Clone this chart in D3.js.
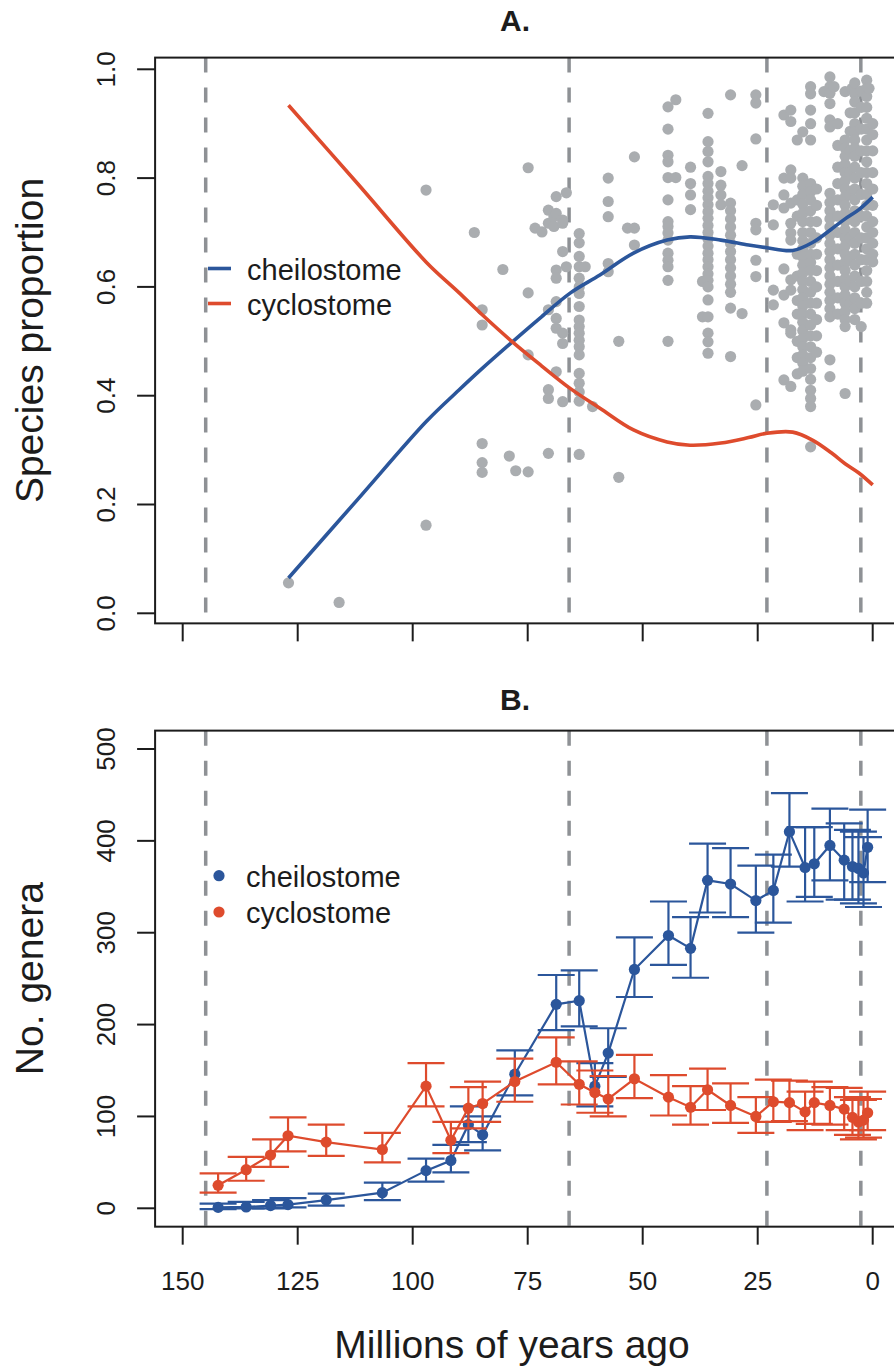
<!DOCTYPE html>
<html lang="en">
<head>
<meta charset="UTF-8">
<title>Cheilostome vs cyclostome</title>
<script src="https://d3js.org/d3.v7.min.js"></script>
<style>
  body { margin: 0; background: #fff; }
  svg { display: block; font-family: "Liberation Sans", Arial, Helvetica, sans-serif; }
</style>
</head>
<body>
<script>
// ---- data ----
const boundaries = [145, 66, 23, 2.58];
const ageTicks = [150, 125, 100, 75, 50, 25, 0];
const propTicks = [0, 0.2, 0.4, 0.6, 0.8, 1.0];
const generaTicks = [0, 100, 200, 300, 400, 500];
const seriesNames = ["cheilostome", "cyclostome"];

// panel A: smoothed species proportions
const curveAges   = [127, 112, 97, 90, 85.3, 78.2, 72, 65.7, 59.3, 52, 44.7, 39.7, 33, 27, 23, 17.4, 13, 9, 6, 3, 0];
const cheiloCurve = [0.065, 0.209, 0.353, 0.41, 0.447, 0.50, 0.545, 0.589, 0.622, 0.662, 0.686, 0.692, 0.686, 0.677, 0.672, 0.667, 0.682, 0.706, 0.725, 0.742, 0.765];
const cycloCurve  = [0.934, 0.79, 0.645, 0.59, 0.552, 0.498, 0.455, 0.413, 0.377, 0.337, 0.315, 0.309, 0.313, 0.323, 0.331, 0.333, 0.318, 0.295, 0.275, 0.258, 0.236];

// panel A: per-assemblage cheilostome proportions (grey points), grouped by age
const scatterAges = [127, 116, 97.1, 86.6, 84.9, 80.4, 79, 77.6, 74.9, 73.4, 71.9, 70.5, 69.3, 68.8, 67.4, 66.6,
  63.8, 62.5, 60.9, 57.5, 55.2, 53.3, 51.8, 44.5, 42.8, 39.6, 37, 35.8, 33, 30.9, 28.4, 25.4, 21.6,
  19.3, 17.8, 16.4, 15.2, 13.5, 12.2, 10.6, 9.3, 8.4, 7.6, 6, 4.9, 4.5, 3.9, 2.5, 1.3, 0.8, 0];
const scatterProps = [
  [0.056], [0.02], [0.162, 0.778], [0.70], [0.558, 0.53, 0.312, 0.277, 0.259], [0.632], [0.289], [0.262],
  [0.819, 0.589, 0.475, 0.26], [0.708], [0.701], [0.741, 0.717, 0.558, 0.411, 0.395, 0.294], [0.729, 0.711],
  [0.766, 0.735, 0.631, 0.616, 0.573, 0.542, 0.524, 0.444], [0.723, 0.717, 0.665, 0.515, 0.496, 0.389], [0.773, 0.637],
  [0.698, 0.681, 0.656, 0.637, 0.616, 0.600, 0.588, 0.564, 0.539, 0.527, 0.515, 0.502, 0.490, 0.475, 0.441, 0.423, 0.407, 0.390, 0.292],
  [0.637], [0.380], [0.800, 0.757, 0.729, 0.643, 0.628], [0.50, 0.25], [0.708], [0.839, 0.708, 0.677],
  [0.931, 0.890, 0.842, 0.830, 0.801, 0.760, 0.720, 0.711, 0.699, 0.686, 0.662, 0.649, 0.637, 0.612, 0.500],
  [0.944, 0.801], [0.820, 0.790, 0.769, 0.742], [0.61, 0.545],
  [0.919, 0.867, 0.849, 0.830, 0.803, 0.79, 0.776, 0.764, 0.751, 0.738, 0.726, 0.713, 0.70, 0.688, 0.675, 0.662, 0.65, 0.637, 0.624, 0.612, 0.60, 0.576, 0.545, 0.515, 0.499, 0.478],
  [0.812, 0.787, 0.769, 0.751],
  [0.953, 0.754, 0.74, 0.725, 0.71, 0.695, 0.68, 0.665, 0.65, 0.635, 0.62, 0.605, 0.59, 0.561, 0.472],
  [0.823, 0.551], [0.953, 0.938, 0.872, 0.717, 0.705, 0.649, 0.619, 0.383], [0.751, 0.714, 0.594, 0.567],
  [0.916, 0.80, 0.769, 0.745, 0.633, 0.585, 0.534, 0.429],
  [0.925, 0.904, 0.815, 0.80, 0.754, 0.717, 0.699, 0.686, 0.613, 0.594, 0.521, 0.515, 0.417],
  [0.87, 0.76, 0.73, 0.66, 0.62, 0.575, 0.55, 0.50, 0.47, 0.44],
  [0.885, 0.80, 0.785, 0.77, 0.752, 0.735, 0.72, 0.70, 0.685, 0.67, 0.655, 0.64, 0.625, 0.61, 0.595, 0.58, 0.565, 0.55, 0.535, 0.52, 0.505, 0.49, 0.475, 0.46, 0.445],
  [0.968, 0.955, 0.925, 0.90, 0.87, 0.79, 0.775, 0.76, 0.74, 0.72, 0.70, 0.68, 0.66, 0.645, 0.63, 0.61, 0.59, 0.57, 0.55, 0.53, 0.51, 0.49, 0.47, 0.45, 0.43, 0.41, 0.395, 0.38, 0.306],
  [0.78, 0.75, 0.72, 0.69, 0.66, 0.63, 0.60, 0.57, 0.54, 0.51, 0.48],
  [0.959],
  [0.986, 0.968, 0.956, 0.937, 0.907, 0.894, 0.772, 0.755, 0.74, 0.725, 0.71, 0.695, 0.68, 0.665, 0.65, 0.635, 0.62, 0.605, 0.59, 0.575, 0.56, 0.545, 0.466, 0.435],
  [0.968],
  [0.90, 0.86, 0.82, 0.79, 0.76, 0.73, 0.70, 0.67, 0.64, 0.61, 0.58, 0.55],
  [0.959, 0.87, 0.855, 0.84, 0.825, 0.81, 0.795, 0.78, 0.765, 0.75, 0.735, 0.72, 0.705, 0.69, 0.675, 0.66, 0.645, 0.63, 0.615, 0.60, 0.585, 0.57, 0.555, 0.54, 0.527, 0.404],
  [0.92, 0.886, 0.85, 0.81, 0.77, 0.73, 0.69, 0.65, 0.61, 0.57],
  [0.965],
  [0.975, 0.955, 0.94, 0.92, 0.90, 0.885, 0.87, 0.855, 0.84, 0.82, 0.80, 0.78, 0.76, 0.74, 0.72, 0.70, 0.68, 0.66, 0.64, 0.62, 0.60, 0.58, 0.56, 0.54],
  [0.96, 0.93, 0.89, 0.85, 0.81, 0.77, 0.73, 0.69, 0.65, 0.61, 0.57, 0.527],
  [0.98, 0.965, 0.95, 0.93, 0.91, 0.89, 0.87, 0.85, 0.83, 0.81, 0.79, 0.77, 0.75, 0.73, 0.71, 0.69, 0.67, 0.65, 0.63, 0.61, 0.59, 0.57],
  [0.965],
  [0.90, 0.88, 0.85, 0.81, 0.78, 0.75, 0.72, 0.70, 0.68, 0.66, 0.646]
];

// panel B: genus counts with error bars
const generaAges   = [142.3, 136.2, 130.9, 127.1, 118.8, 106.6, 97.1, 91.7, 87.9, 84.8, 77.8, 68.8, 63.8, 60.4, 57.5, 51.8, 44.4, 39.6, 35.9, 30.9, 25.4, 21.6, 18.1, 14.7, 12.7, 9.3, 6.2, 4.4, 3.1, 2.0, 1.1];
const cheiloGenera = [1, 1.5, 3, 4, 9, 17, 41, 52, 91, 80, 146, 222, 226, 133, 169, 260, 297, 283, 357, 353, 335, 346, 410, 371, 375, 395, 379, 372, 370, 365, 393];
const cheiloLo     = [-1, 0, 0, 1, 3, 9, 29, 39, 72, 63, 123, 194, 198, 111, 143, 230, 265, 251, 322, 317, 300, 311, 372, 334, 339, 357, 336, 336, 332, 328, 355];
const cheiloHi     = [5, 7, 9, 11, 16, 28, 54, 69, 111, 100, 172, 254, 259, 158, 196, 295, 334, 317, 397, 392, 373, 385, 452, 415, 415, 435, 419, 412, 410, 404, 434];
const cycloGenera  = [25, 42, 58, 79, 72, 64, 133, 74, 109, 114, 138, 159, 135, 126, 119, 141, 121, 110, 129, 112, 100, 116, 115, 105, 115, 112, 108, 99, 94, 96, 104];
const cycloLo      = [17, 30, 45, 62, 57, 50, 111, 60, 87, 94, 116, 135, 113, 104, 100, 120, 101, 91, 107, 93, 82, 94, 95, 85, 92, 91, 85, 80, 75, 77, 85];
const cycloHi      = [38, 56, 75, 99, 91, 82, 158, 94, 132, 138, 163, 186, 160, 150, 144, 167, 145, 133, 152, 136, 121, 140, 139, 127, 138, 132, 131, 121, 118, 119, 127];

// ---- drawing ----
const w = 894, h = 1372;
const blue = "#2b569b", red = "#de4b2d", grey = "#aaadb0", dashGrey = "#8e9195", ink = "#1c1c1c";

const svg = d3.select('body').append('svg').attr('width', w).attr('height', h);
svg.append('rect').attr('width', w).attr('height', h).attr('fill', '#fff');

const x = d3.scaleLinear().domain([150, 0]).range([182.7, 872.7]);
const yA = d3.scaleLinear().domain([0, 1]).range([613.3, 69.3]);
const yB = d3.scaleLinear().domain([0, 500]).range([1208.3, 749]);

function frame(y, yTicks, yFmt, top, bottom, showXLabels) {
  const g = svg.append('g');
  const left = x(156), right = x(-6);
  // period boundaries
  g.selectAll('line.bound').data(boundaries).enter().append('line')
    .attr('x1', d => x(d)).attr('x2', d => x(d))
    .attr('y1', top).attr('y2', bottom)
    .attr('stroke', dashGrey).attr('stroke-width', 3.5)
    .attr('stroke-dasharray', '15,15');
  g.append('rect').attr('x', left).attr('y', top)
    .attr('width', right - left).attr('height', bottom - top)
    .attr('fill', 'none').attr('stroke', ink).attr('stroke-width', 2);
  // y ticks
  g.selectAll('line.yt').data(yTicks).enter().append('line')
    .attr('x1', left - 18).attr('x2', left)
    .attr('y1', d => y(d)).attr('y2', d => y(d))
    .attr('stroke', ink).attr('stroke-width', 2);
  g.selectAll('text.yt').data(yTicks).enter().append('text')
    .attr('transform', d => `translate(115,${y(d)}) rotate(-90)`)
    .attr('text-anchor', 'middle').attr('font-size', 26).attr('fill', ink)
    .text(yFmt);
  // x ticks
  g.selectAll('line.xt').data(ageTicks).enter().append('line')
    .attr('x1', d => x(d)).attr('x2', d => x(d))
    .attr('y1', bottom).attr('y2', bottom + 18)
    .attr('stroke', ink).attr('stroke-width', 2);
  if (showXLabels) {
    g.selectAll('text.xt').data(ageTicks).enter().append('text')
      .attr('x', d => x(d)).attr('y', bottom + 63)
      .attr('text-anchor', 'middle').attr('font-size', 26).attr('fill', ink)
      .text(d => d);
  }
  return g;
}

// ---------- panel A ----------
const topA = yA(1.0215), botA = yA(-0.0185);
frame(yA, propTicks, d => d.toFixed(1), topA, botA, false);

const pts = [];
scatterAges.forEach((a, i) => scatterProps[i].forEach(v => pts.push([a, v])));
svg.append('g').selectAll('circle').data(pts).enter().append('circle')
  .attr('cx', d => x(d[0])).attr('cy', d => yA(d[1])).attr('r', 5.6)
  .attr('fill', grey);

const lineA = d3.line().x(d => x(d[0])).y(d => yA(d[1])).curve(d3.curveCatmullRom.alpha(0.5));
[[cheiloCurve, blue], [cycloCurve, red]].forEach(([vals, col]) => {
  svg.append('path').datum(curveAges.map((a, i) => [a, vals[i]]))
    .attr('d', lineA).attr('fill', 'none').attr('stroke', col).attr('stroke-width', 3.6);
});

// legend A
const legA = svg.append('g');
[blue, red].forEach((col, i) => {
  const ly = 268.5 + i * 35;
  legA.append('line').attr('x1', 208).attr('x2', 231).attr('y1', ly).attr('y2', ly)
    .attr('stroke', col).attr('stroke-width', 3.6);
  legA.append('text').attr('x', 247).attr('y', ly).attr('dy', '0.39em')
    .attr('font-size', 29).attr('fill', ink).text(seriesNames[i]);
});

svg.append('text').attr('x', 515).attr('y', 31).attr('text-anchor', 'middle')
  .attr('font-size', 30).attr('font-weight', 'bold').attr('fill', ink).text('A.');
svg.append('text').attr('transform', `translate(43,${(topA + botA) / 2}) rotate(-90)`)
  .attr('text-anchor', 'middle').attr('font-size', 39).attr('fill', ink).text('Species proportion');

// ---------- panel B ----------
const topB = yB(520), botB = yB(-20);
frame(yB, generaTicks, d => d, topB, botB, true);

function series(vals, lo, hi, col) {
  const g = svg.append('g');
  const line = d3.line().x((d, i) => x(generaAges[i])).y(d => yB(d));
  g.append('path').datum(vals).attr('d', line)
    .attr('fill', 'none').attr('stroke', col).attr('stroke-width', 2.2);
  generaAges.forEach((a, i) => {
    const cx = x(a);
    g.append('line').attr('x1', cx).attr('x2', cx).attr('y1', yB(lo[i])).attr('y2', yB(hi[i]))
      .attr('stroke', col).attr('stroke-width', 2.2);
    [lo[i], hi[i]].forEach(v => {
      g.append('line').attr('x1', cx - 18.5).attr('x2', cx + 18.5).attr('y1', yB(v)).attr('y2', yB(v))
        .attr('stroke', col).attr('stroke-width', 2.2);
    });
  });
  g.selectAll('circle').data(vals).enter().append('circle')
    .attr('cx', (d, i) => x(generaAges[i])).attr('cy', d => yB(d)).attr('r', 5.6)
    .attr('fill', col);
}
series(cheiloGenera, cheiloLo, cheiloHi, blue);
series(cycloGenera, cycloLo, cycloHi, red);

const legB = svg.append('g');
[blue, red].forEach((col, i) => {
  const ly = 875.7 + i * 36.3;
  legB.append('circle').attr('cx', 219).attr('cy', ly).attr('r', 5.6).attr('fill', col);
  legB.append('text').attr('x', 246).attr('y', ly).attr('dy', '0.39em')
    .attr('font-size', 29).attr('fill', ink).text(seriesNames[i]);
});

svg.append('text').attr('x', 515).attr('y', 710).attr('text-anchor', 'middle')
  .attr('font-size', 30).attr('font-weight', 'bold').attr('fill', ink).text('B.');
svg.append('text').attr('transform', `translate(43,${(topB + botB) / 2}) rotate(-90)`)
  .attr('text-anchor', 'middle').attr('font-size', 39).attr('fill', ink).text('No. genera');
svg.append('text').attr('x', 512).attr('y', 1358).attr('text-anchor', 'middle')
  .attr('font-size', 39).attr('fill', ink).text('Millions of years ago');
</script>
</body>
</html>
